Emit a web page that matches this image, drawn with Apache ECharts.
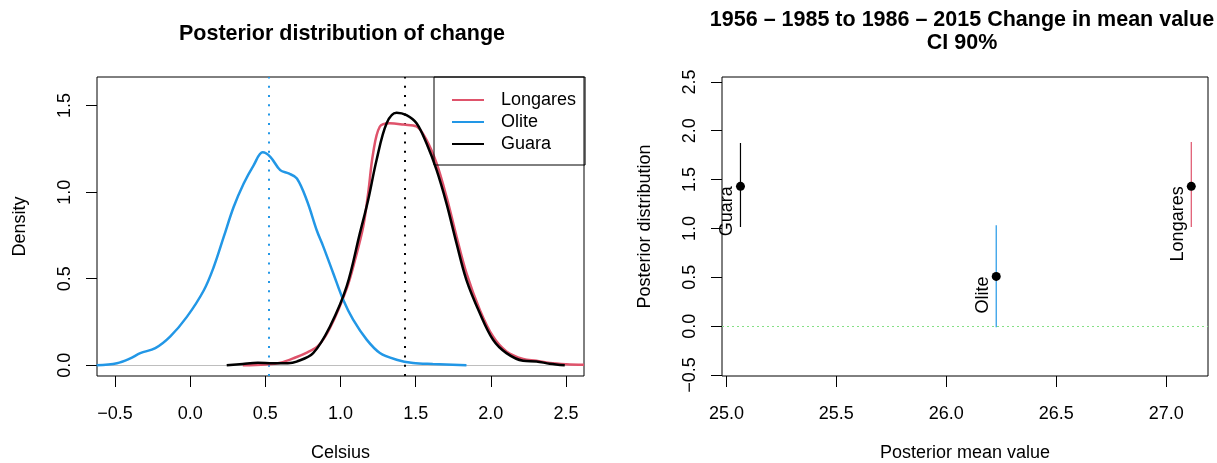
<!DOCTYPE html>
<html>
<head>
<meta charset="utf-8">
<script src="https://cdn.jsdelivr.net/npm/echarts@6/dist/echarts.min.js"></script>
<style>
html,body{margin:0;padding:0;background:#fff;}
#c{width:1217px;height:463px;}
</style>
</head>
<body>
<div id="c"></div>
<script>
// ---------- Data ----------
const seriesNames = ['Longares', 'Olite', 'Guara'];

// Density curves [Celsius, density]
const longaresDensity = [
  [0.35,0],[0.5,0.005],[0.6,0.015],[0.7,0.045],[0.78,0.075],[0.85,0.11],[0.93,0.215],
  [1.04,0.44],[1.10,0.62],[1.151,0.80],[1.184,0.994],[1.217,1.225],[1.262,1.379],
  [1.328,1.398],[1.42,1.39],[1.506,1.379],[1.572,1.302],[1.639,1.167],[1.705,0.974],
  [1.772,0.744],[1.838,0.532],[1.927,0.32],[2.015,0.166],[2.104,0.08],[2.215,0.036],
  [2.304,0.026],[2.392,0.013],[2.503,0.006],[2.62,0.003]
];
const oliteDensity = [
  [-0.623,0],[-0.487,0.012],[-0.398,0.04],[-0.332,0.07],[-0.232,0.099],[-0.132,0.167],
  [-0.021,0.281],[0.090,0.432],[0.156,0.566],[0.223,0.741],[0.289,0.914],[0.356,1.05],
  [0.422,1.155],[0.482,1.23],[0.533,1.204],[0.599,1.127],[0.655,1.108],[0.710,1.079],
  [0.777,0.95],[0.843,0.777],[0.885,0.687],[0.951,0.533],[1.018,0.378],[1.084,0.263],
  [1.174,0.148],[1.262,0.071],[1.373,0.032],[1.483,0.013],[1.614,0.007],[1.838,0]
];
const guaraDensity = [
  [0.243,0],[0.35,0.008],[0.45,0.014],[0.55,0.012],[0.65,0.012],[0.708,0.021],
  [0.818,0.07],[0.93,0.224],[1.041,0.455],[1.129,0.763],[1.184,0.955],[1.24,1.186],
  [1.307,1.398],[1.373,1.459],[1.439,1.445],[1.506,1.398],[1.572,1.282],[1.639,1.128],
  [1.705,0.935],[1.772,0.704],[1.838,0.492],[1.927,0.30],[2.015,0.147],[2.104,0.07],
  [2.215,0.026],[2.304,0.022],[2.392,0.009],[2.492,0]
];
// Posterior means of change (dotted verticals)
const meanOlite = 0.519;
const meanLongaresGuara = 1.433;

// Right panel: posterior mean value, change, 90% CI
const ciStations = ['Guara', 'Olite', 'Longares'];
const ciMeanValue = [25.064, 26.227, 27.114];
const ciChange = [1.431, 0.509, 1.431];
const ciLow = [1.014, -0.01, 1.014];
const ciHigh = [1.875, 1.032, 1.885];

// Tick labels
const leftXTicks = [-0.5, 0.0, 0.5, 1.0, 1.5, 2.0, 2.5];
const leftYTicks = [0.0, 0.5, 1.0, 1.5];
const rightXTicks = [25.0, 25.5, 26.0, 26.5, 27.0];
const rightYTicks = [-0.5, 0.0, 0.5, 1.0, 1.5, 2.0, 2.5];

// ---------- Styles ----------
const FONT = '"Liberation Sans", Arial, Helvetica, sans-serif';
const colors = {Longares: '#DF536B', Olite: '#2297E6', Guara: '#000000'};
const fmt = v => (v < 0 ? '\u2212' : '') + Math.abs(v).toFixed(1);
const txt = {color: '#000', fontFamily: FONT, fontSize: 18};

function valueAxis(gridIndex, min, max, ticks, labelExtra, extra) {
  return Object.assign({
    type: 'value', gridIndex, min, max,
    axisLine: {show: false, onZero: false},
    splitLine: {show: false},
    axisTick: {show: true, length: 11, lineStyle: {color: '#000', width: 1}, customValues: ticks},
    axisLabel: Object.assign({customValues: ticks, formatter: fmt}, txt, labelExtra),
    nameTextStyle: txt,
    nameLocation: 'middle'
  }, extra || {});
}

const densitySeries = {Longares: longaresDensity, Olite: oliteDensity, Guara: guaraDensity};

const series = [];
seriesNames.forEach(n => {
  const s = {
    name: n, type: 'line', xAxisIndex: 0, yAxisIndex: 0,
    data: densitySeries[n], symbol: 'none', showSymbol: false,
    smooth: 0.35,
    lineStyle: {color: colors[n], width: 2.5}, itemStyle: {color: colors[n]},
    z: 3
  };
  if (n === 'Longares') {
    s.markLine = {
      silent: true, symbol: 'none', label: {show: false}, z: 2,
      data: [
        {yAxis: 0, lineStyle: {color: '#BEBEBE', width: 1, type: 'solid'}},
        {xAxis: meanOlite, lineStyle: {color: colors.Olite, width: 2, type: [2, 7.3]}},
        {xAxis: meanLongaresGuara, lineStyle: {color: '#000', width: 2, type: [2, 7.3]}}
      ]
    };
  }
  series.push(s);
});

// Right panel: CI segments
ciStations.forEach((st, i) => {
  const s = {
    name: 'ci_' + st, type: 'line', xAxisIndex: 1, yAxisIndex: 1,
    data: [[ciMeanValue[i], ciLow[i]], [ciMeanValue[i], ciHigh[i]]],
    symbol: 'none', lineStyle: {color: colors[st], width: 1.2}, z: 2
  };
  if (i === 0) {
    s.markLine = {
      silent: true, symbol: 'none', label: {show: false},
      data: [{yAxis: 0, lineStyle: {color: '#86E086', width: 1.2, type: [2, 3]}}]
    };
  }
  series.push(s);
});
series.push({
  name: 'points', type: 'scatter', xAxisIndex: 1, yAxisIndex: 1,
  data: ciStations.map((st, i) => ({value: [ciMeanValue[i], ciChange[i]], name: st})),
  symbol: 'circle', symbolSize: 9, itemStyle: {color: '#000', opacity: 1}, z: 4,
  label: Object.assign({
    show: true, position: 'left', distance: 9, rotate: 90,
    formatter: p => p.name
  }, txt)
});

const option = {
  animation: false,
  backgroundColor: '#fff',
  title: [
    {text: 'Posterior distribution of change', left: 337, top: 18, textAlign: 'center',
     textStyle: {fontFamily: FONT, fontSize: 21.5, fontWeight: 'bold', color: '#000'}},
    {text: '1956 \u2013 1985 to 1986 \u2013 2015 Change in mean value\nCI 90%', left: 957, top: 3, textAlign: 'center',
     textStyle: {fontFamily: FONT, fontSize: 21.5, fontWeight: 'bold', color: '#000', lineHeight: 23.3}}
  ],
  legend: {
    data: seriesNames, orient: 'vertical', left: 434, top: 77,
    padding: [14, 9, 12, 17], itemWidth: 32, itemHeight: 18, itemGap: 4,
    borderColor: '#000', borderWidth: 1, borderRadius: 0,
    backgroundColor: 'rgba(255,255,255,0)',
    itemStyle: {opacity: 0},
    textStyle: Object.assign({padding: [0, 0, 0, 12], lineHeight: 18}, txt),
    selectedMode: false
  },
  grid: [
    {left: 97, top: 77, width: 487, height: 299, show: true, borderColor: '#000', borderWidth: 1,
     backgroundColor: 'transparent', containLabel: false, outerBoundsMode: 'none'},
    {left: 722, top: 77, width: 486, height: 299, show: true, borderColor: '#000', borderWidth: 1,
     backgroundColor: 'transparent', containLabel: false, outerBoundsMode: 'none'}
  ],
  xAxis: [
    valueAxis(0, -0.62, 2.62, leftXTicks, {margin: 29.5}, {name: 'Celsius', nameGap: 68}),
    valueAxis(1, 24.98, 27.19, rightXTicks, {margin: 29.5}, {name: 'Posterior mean value', nameGap: 68})
  ],
  yAxis: [
    valueAxis(0, -0.062, 1.665, leftYTicks, {margin: 23, rotate: 90}, {name: 'Density', nameGap: 68}),
    valueAxis(1, -0.51, 2.55, rightYTicks, {margin: 23, rotate: 90}, {name: 'Posterior distribution', nameGap: 68})
  ],
  series
};

const chart = echarts.init(document.getElementById('c'), null, {renderer: 'canvas'});
chart.setOption(option);
</script>
</body>
</html>
